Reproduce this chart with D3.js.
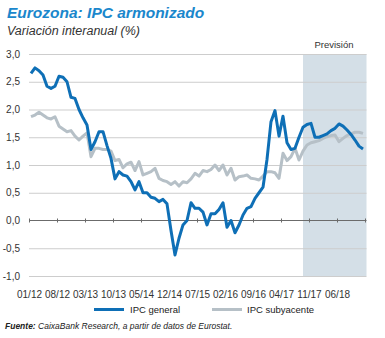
<!DOCTYPE html>
<html><head><meta charset="utf-8">
<script src="https://cdn.jsdelivr.net/npm/d3@7"></script>
<style>body{margin:0;background:#fff} svg{display:block}</style>
</head><body><svg id="c" width="385" height="338"></svg>
<script>
// IPC general, monthly 01/2012 - 12/2018 (forecast from 09/2017)
const general = [
  2.65, 2.75, 2.70, 2.62, 2.42, 2.38, 2.42, 2.60, 2.58, 2.50, 2.22, 2.20,
  2.00, 1.85, 1.72, 1.28, 1.42, 1.60, 1.60, 1.35, 1.12, 0.75, 0.88, 0.82,
  0.80, 0.70, 0.55, 0.70, 0.50, 0.50, 0.42, 0.40, 0.34, 0.38, 0.30, -0.18,
  -0.62, -0.32, -0.08, 0.00, 0.32, 0.22, 0.22, 0.15, -0.08, 0.12, 0.12, 0.20,
  0.32, -0.12, 0.00, -0.22, -0.08, 0.10, 0.22, 0.25, 0.40, 0.50, 0.60, 1.10,
  1.78, 1.98, 1.52, 1.88, 1.40, 1.28, 1.30, 1.50, 1.68, 1.73, 1.75, 1.50,
  1.50, 1.53, 1.56, 1.62, 1.66, 1.74, 1.70, 1.63, 1.55, 1.45, 1.34, 1.29
];
// IPC subyacente
const subyacente = [
  1.87, 1.90, 1.95, 1.90, 1.85, 1.83, 1.87, 1.70, 1.65, 1.60, 1.62, 1.52,
  1.45, 1.52, 1.58, 1.15, 1.30, 1.30, 1.28, 1.28, 1.25, 1.08, 1.10, 0.95,
  1.02, 1.05, 0.90, 1.06, 0.82, 0.85, 0.88, 0.94, 0.76, 0.72, 0.70, 0.65,
  0.70, 0.62, 0.70, 0.68, 0.75, 0.85, 0.80, 0.90, 0.88, 0.92, 1.00, 0.90,
  1.00, 0.82, 0.94, 0.73, 0.79, 0.80, 0.82, 0.76, 0.75, 0.73, 0.80, 0.88,
  0.88, 0.86, 0.76, 1.21, 1.08, 1.15, 1.30, 1.09, 1.25, 1.36, 1.40, 1.42,
  1.44, 1.48, 1.51, 1.53, 1.54, 1.42, 1.48, 1.53, 1.56, 1.59, 1.59, 1.57
];
const tickLabels = ["01/12","08/12","03/13","10/13","05/14","12/14","07/15","02/16","09/16","04/17","11/17","06/18",""];
const tickStep = 7; // months between ticks
const yTicks = [-1, -0.5, 0, 0.5, 1, 1.5, 2, 2.5, 3];
const forecastStart = 68; // 09/17
const seriesNames = ["IPC general", "IPC subyacente"];
const colors = ["#0e6fb6", "#b6c0c7"];

const svg = d3.select("#c");
const L = 29, R = 365, T = 54, B = 276;
const nMonths = 84;
const x = d3.scaleLinear().domain([0, nMonths]).range([L, R]);
const y = d3.scaleLinear().domain([-1, 3]).range([B, T]);
const fNarrow = "'Liberation Sans Narrow','Liberation Sans',Arial,sans-serif";

// forecast shading
svg.append("rect")
  .attr("x", x(forecastStart + 0.5)).attr("y", y(3))
  .attr("width", x(nMonths) + 1.5 - x(forecastStart + 0.5))
  .attr("height", y(-1) - y(3))
  .attr("fill", "#d4dfe7");
svg.append("text")
  .attr("x", (x(forecastStart + 0.5) + x(nMonths)) / 2).attr("y", 48)
  .attr("text-anchor", "middle").attr("font-family", fNarrow)
  .attr("font-size", 9.5).attr("fill", "#333").text("Previsión");

// grid
const yAxis = d3.axisLeft(y).tickValues(yTicks)
  .tickFormat(d => d3.format(".1f")(d).replace(".", ",").replace("−", "-"))
  .tickSize(-(R + 1.5 - L)).tickPadding(9);
const gy = svg.append("g").attr("transform", `translate(${L},0)`).call(yAxis);
gy.select(".domain").remove();
gy.selectAll(".tick line").attr("stroke", d => d === 0 ? "none" : "#cdcdcd").attr("stroke-width", 1);
gy.selectAll(".tick text").attr("font-family", fNarrow).attr("font-size", 10).attr("fill", "#333");

// zero axis with ticks
const xAxis = d3.axisBottom(x)
  .tickValues(d3.range(0, nMonths + 1, tickStep))
  .tickFormat((d, i) => tickLabels[i])
  .tickSize(2).tickPadding(68);
const gx = svg.append("g").attr("transform", `translate(0,${y(0)})`).call(xAxis);
gx.select(".domain").attr("stroke", "#6b6b6b").attr("d", `M${L},0H${R + 1.5}`);
gx.selectAll(".tick line").attr("stroke", "#6b6b6b").attr("y1", -2).attr("y2", 2);
gx.selectAll(".tick text").attr("font-family", fNarrow).attr("font-size", 10).attr("fill", "#333");

// lines
const line = d3.line().x((d, i) => x(i + 0.5)).y(d => y(d)).curve(d3.curveLinear);
[subyacente, general].forEach((s, k) => {
  svg.append("path").datum(s).attr("d", line)
    .attr("fill", "none").attr("stroke", k === 0 ? colors[1] : colors[0])
    .attr("stroke-width", 3).attr("stroke-linejoin", "round");
});

// legend
const lg = svg.append("g");
[[94, 130], [212, 247]].forEach(([lx, tx], k) => {
  lg.append("line").attr("x1", lx).attr("x2", lx + 30).attr("y1", 309.5).attr("y2", 309.5)
    .attr("stroke", colors[k]).attr("stroke-width", 3);
  lg.append("text").attr("x", tx).attr("y", 313).attr("font-family", fNarrow)
    .attr("font-size", 9.5).attr("fill", "#222").text(seriesNames[k]);
});

// titles
svg.append("text").attr("x", 7).attr("y", 18)
  .attr("font-family", fNarrow).attr("font-weight", "bold").attr("font-style", "italic")
  .attr("font-size", 15.5).attr("fill", "#1a87cc").text("Eurozona: IPC armonizado");
svg.append("text").attr("x", 7).attr("y", 35)
  .attr("font-family", fNarrow).attr("font-style", "italic")
  .attr("font-size", 12.5).attr("fill", "#333").text("Variación interanual (%)");
const f = svg.append("text").attr("x", 5).attr("y", 329)
  .attr("font-family", fNarrow).attr("font-style", "italic").attr("font-size", 8.5).attr("fill", "#222");
f.append("tspan").attr("font-weight", "bold").text("Fuente:");
f.append("tspan").text(" CaixaBank Research, a partir de datos de Eurostat.");
</script></body></html>
